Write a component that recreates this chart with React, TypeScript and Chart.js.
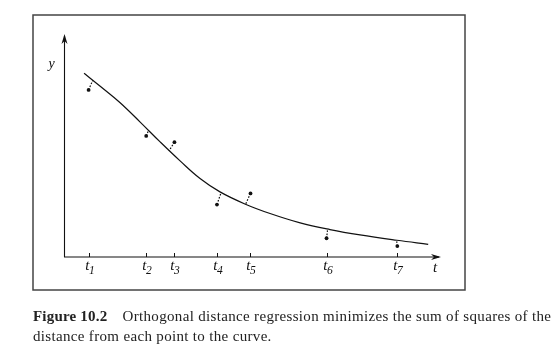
import React, { useEffect, useRef } from "react";
import { Chart, registerables } from "chart.js";

Chart.register(...registerables);

// Tick positions on the t axis and their subscripts
const tValues = [0.64, 2.17, 2.92, 4.06, 4.94, 6.97, 8.84];
const tSubs = ["1", "2", "3", "4", "5", "6", "7"];

// Observed data points
const obsT = [0.64, 2.17, 2.92, 4.05, 4.94, 6.96, 8.84];
const obsY = [7.49, 5.43, 5.15, 2.35, 2.85, 0.84, 0.49];

// Orthogonal feet on the fitted curve
const footT = [0.75, 2.23, 2.78, 4.16, 4.81, 6.99, 8.82];
const footY = [7.92, 5.67, 4.77, 2.89, 2.37, 1.26, 0.75];

// Fitted curve
const curveT = [0.52, 0.94, 1.47, 2.01, 2.54, 3.07, 3.6, 4.13, 4.79, 5.46, 6.26, 7.05, 7.85, 8.83, 9.66];
const curveY = [8.24, 7.67, 6.93, 6.05, 5.16, 4.31, 3.52, 2.92, 2.38, 1.95, 1.53, 1.23, 0.99, 0.75, 0.57];

const xAxisLabel = "t";
const yAxisLabel = "y";
const captionBold = "Figure 10.2";
const captionLine1 = "Orthogonal distance regression minimizes the sum of squares of the";
const captionLine2 = "distance from each point to the curve.";

const SERIF = "'Liberation Serif', 'DejaVu Serif', serif";

const decorPlugin = {
  id: "decor",
  afterDraw(chart: any) {
    const ctx = chart.ctx as CanvasRenderingContext2D;
    const { left, right, top, bottom } = chart.chartArea;
    const xs = chart.scales.x;
    ctx.save();
    // outer frame
    ctx.strokeStyle = "#444";
    ctx.lineWidth = 1.5;
    ctx.strokeRect(33, 15, 432, 275);

    ctx.strokeStyle = "#111";
    ctx.fillStyle = "#111";
    ctx.lineWidth = 1.1;
    // axes
    ctx.beginPath();
    ctx.moveTo(left, top + 2);
    ctx.lineTo(left, bottom);
    ctx.lineTo(right - 2, bottom);
    ctx.stroke();
    // arrow heads
    ctx.beginPath();
    ctx.moveTo(left, top);
    ctx.lineTo(left - 3, top + 10);
    ctx.lineTo(left, top + 7);
    ctx.lineTo(left + 3, top + 10);
    ctx.closePath();
    ctx.fill();
    ctx.beginPath();
    ctx.moveTo(right, bottom);
    ctx.lineTo(right - 10, bottom - 3);
    ctx.lineTo(right - 7, bottom);
    ctx.lineTo(right - 10, bottom + 3);
    ctx.closePath();
    ctx.fill();

    // ticks and labels
    ctx.lineWidth = 1;
    tValues.forEach((v, i) => {
      const px = Math.round(xs.getPixelForValue(v)) + 0.5;
      ctx.beginPath();
      ctx.moveTo(px, bottom - 4);
      ctx.lineTo(px, bottom);
      ctx.stroke();
      ctx.font = `italic 15px ${SERIF}`;
      ctx.textAlign = "right";
      ctx.textBaseline = "alphabetic";
      ctx.fillText("t", px, 270);
      ctx.font = `italic 11.5px ${SERIF}`;
      ctx.textAlign = "left";
      ctx.fillText(tSubs[i], px - 0.5, 273.5);
    });
    ctx.font = `italic 15px ${SERIF}`;
    ctx.textAlign = "center";
    ctx.fillText(xAxisLabel, 435, 272);
    ctx.font = `italic 14px ${SERIF}`;
    ctx.fillText(yAxisLabel, 51.5, 68);
    ctx.restore();
  },
};

export default function App() {
  const ref = useRef<HTMLCanvasElement | null>(null);
  useEffect(() => {
    if (!ref.current) return;
    const pts = (ts: number[], ys: number[]) => ts.map((t, i) => ({ x: t, y: ys[i] }));
    const residualSets = obsT.map((t, i) => ({
      type: "line" as const,
      data: [
        { x: t, y: obsY[i] },
        { x: footT[i], y: footY[i] },
      ],
      borderColor: "#111",
      borderWidth: 1.2,
      borderDash: [1.6, 1.6],
      pointRadius: 0,
      fill: false,
    }));
    const chart = new Chart(ref.current, {
      type: "scatter",
      data: {
        datasets: [
          {
            type: "line",
            data: pts(curveT, curveY),
            borderColor: "#111",
            borderWidth: 1.2,
            pointRadius: 0,
            tension: 0.4,
            fill: false,
          } as any,
          {
            type: "scatter",
            data: pts(obsT, obsY),
            backgroundColor: "#111",
            borderColor: "#111",
            borderWidth: 0,
            pointRadius: 1.9,
          } as any,
          ...(residualSets as any[]),
        ],
      },
      options: {
        animation: false,
        responsive: false,
        events: [],
        layout: { padding: { left: 64.5, right: 119, top: 34, bottom: 105 } },
        plugins: { legend: { display: false }, tooltip: { enabled: false } },
        scales: {
          x: {
            type: "linear",
            min: 0,
            max: 10,
            ticks: { display: false },
            grid: { display: false, drawTicks: false },
            border: { display: false },
            afterFit: (s: any) => {
              s.height = 0;
            },
          },
          y: {
            type: "linear",
            min: 0,
            max: 10,
            ticks: { display: false },
            grid: { display: false, drawTicks: false },
            border: { display: false },
            afterFit: (s: any) => {
              s.width = 0;
            },
          },
        },
      },
      plugins: [decorPlugin],
    });
    return () => chart.destroy();
  }, []);

  return (
    <div style={{ position: "fixed", left: 0, top: 0, width: 560, height: 362, background: "#fff", overflow: "hidden" }}>
      <canvas ref={ref} width={560} height={362} style={{ position: "absolute", left: 0, top: 0 }} />
      <div
        style={{
          position: "absolute",
          left: 33,
          top: 306,
          fontFamily: SERIF,
          fontSize: 15,
          lineHeight: "20px",
          color: "#222",
          whiteSpace: "nowrap",
          letterSpacing: "0.33px",
        }}
      >
        <span style={{ fontWeight: "bold", letterSpacing: "0.2px" }}>{captionBold}</span>
        <span style={{ display: "inline-block", width: 11 }} /> {captionLine1}
        <br />
        {captionLine2}
      </div>
    </div>
  );
}
